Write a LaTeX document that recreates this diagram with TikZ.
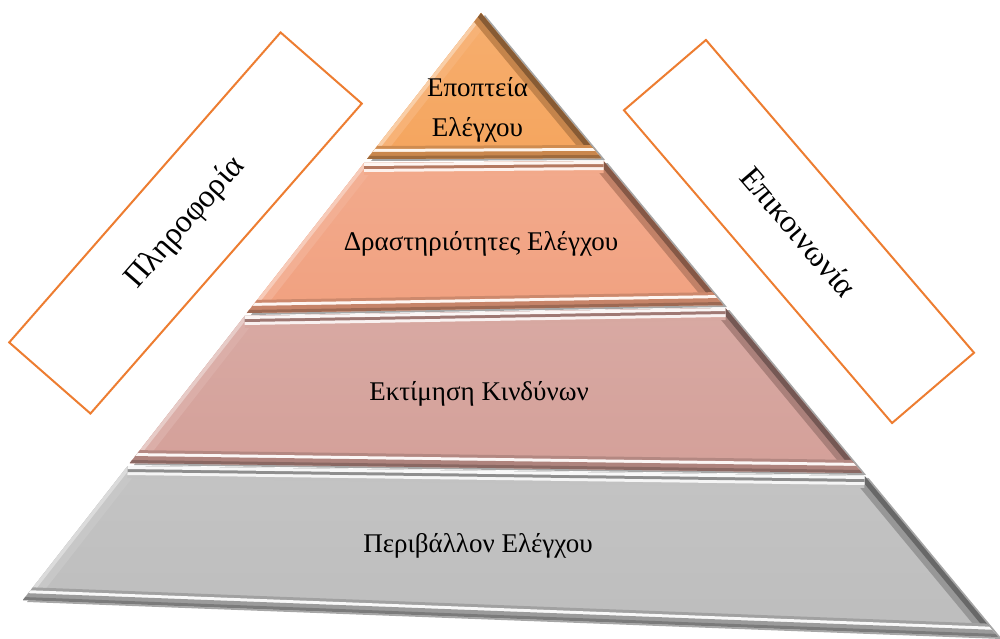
\documentclass[tikz,border=0pt]{standalone}
\usepackage{fontspec}
\setmainfont{Liberation Serif}
\usetikzlibrary{calc}
\definecolor{tierA}{HTML}{F5A55E}
\definecolor{tierB}{HTML}{F1A180}
\definecolor{tierC}{HTML}{D4A099}
\definecolor{tierD}{HTML}{BDBDBD}
\definecolor{boxline}{HTML}{ED7D31}
\newcommand\pyrlayer[5]{%
  \fill[black,opacity=0.35] ($(#1)+(4,2)$) -- ($(#2)+(4,2)$) -- ($(#3)+(4,2)$) -- ($(#4)+(4,2)$) -- cycle;
  \shade[top color=#5!90!white, bottom color=#5] (#1) -- (#2) -- (#3) -- (#4) -- cycle;
  \begin{scope}
    \clip (#1) -- (#2) -- (#3) -- (#4) -- cycle;
    \draw[line width=22, #5!85!white] (#4) -- (#1);
    \draw[line width=7, white!45!#5] (#4) -- (#1);
    \draw[line width=22, #5!80!black] (#2) -- (#3);
    \draw[line width=10, #5!55!black] (#2) -- (#3);
    \draw[line width=24, #5!92!white] (#1) -- (#2);
    \draw[line width=18, white!85!#5] (#1) -- (#2);
    \draw[line width=12, #5!75!black] (#1) -- (#2);
    \draw[line width=6, white!90!#5] (#1) -- (#2);
    \draw[line width=26, #5!85!black] (#4) -- (#3);
    \draw[line width=20, white!90!#5] (#4) -- (#3);
    \draw[line width=14, #5!82!black] (#4) -- (#3);
    \draw[line width=6, #5!65!black] (#4) -- (#3);
  \end{scope}
}
\begin{document}
\begin{tikzpicture}[x=1pt,y=-1pt,
  tiertext/.style={font=\fontsize{27}{31}\selectfont, text=black, inner sep=0pt, anchor=base},
  sidebox/.style={draw=boxline, line width=2pt, fill=white, minimum width=412pt, minimum height=108pt, inner sep=0pt, font=\fontsize{32}{36}\selectfont}]
\useasboundingbox (0,0) rectangle (1000,639);
% coordinates of the tiers
\coordinate (a1) at (481,13);
\coordinate (a2) at (481,13);
\coordinate (a3) at (601.1,158);
\coordinate (a4) at (367.1,159);
\coordinate (b1) at (364.0,163);
\coordinate (b2) at (603.6,161);
\coordinate (b3) at (722.9,305);
\coordinate (b4) at (246.9,313);
\coordinate (c1) at (244.6,316);
\coordinate (c2) at (725.4,308);
\coordinate (c3) at (862.1,473);
\coordinate (c4) at (129.9,463);
\coordinate (d1) at (127.6,466);
\coordinate (d2) at (864.6,476);
\coordinate (d3) at (998,637);
\coordinate (d4) at (23,600);
\pyrlayer{d1}{d2}{d3}{d4}{tierD}
\pyrlayer{c1}{c2}{c3}{c4}{tierC}
\pyrlayer{b1}{b2}{b3}{b4}{tierB}
\pyrlayer{a1}{a2}{a3}{a4}{tierA}
% texts
\node[tiertext] (top1) at (477.5,97) {Εποπτεία};
\node[tiertext] (top2) at (477.5,137) {Ελέγχου};
\node[tiertext] (act) at (481,250) {Δραστηριότητες Ελέγχου};
\node[tiertext] (risk) at (479,400) {Εκτίμηση Κινδύνων};
\node[tiertext] (env) at (478,552) {Περιβάλλον Ελέγχου};
% side boxes
\node[sidebox, rotate=48.8] (info) at (185.5,223) {Πληροφορία};
\node[sidebox, rotate=-49.4] (comm) at (799,231.5) {Επικοινωνία};
\end{tikzpicture}
\end{document}
